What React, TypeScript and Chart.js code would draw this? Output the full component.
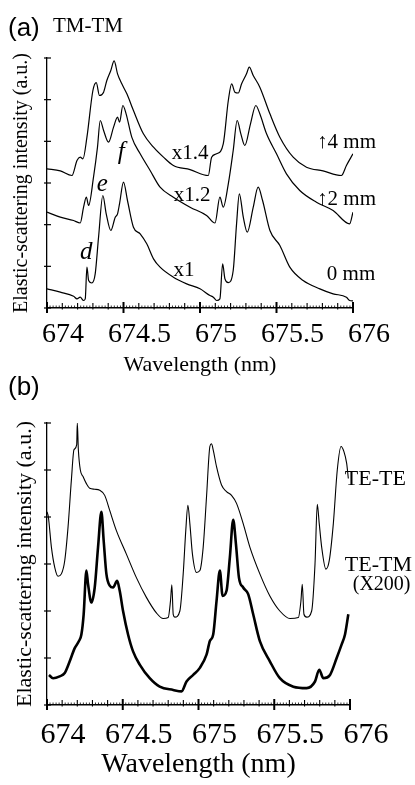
import React, { useEffect, useRef } from "react";
import { Chart, registerables } from "chart.js";
Chart.register(...registerables);

const SERIF = "'Liberation Serif', 'Times New Roman', serif";
const SANS = "'Liberation Sans', Arial, sans-serif";

// ---------- shared axis ----------
const X_MIN = 674;
const X_MAX = 676;
const X_STEP = 0.5;
const X_MINOR = 0.02;
const X_TICK_LABELS = ["674", "674.5", "675", "675.5", "676"];
const Y_MIN = 0;
const Y_MAX = 6;

// ---------- panel (a) TM-TM ----------
const A_WL_X1 = [674.0, 674.087, 674.174, 674.196, 674.217, 674.239, 674.25, 674.261, 674.272, 674.293, 674.315, 674.337, 674.365, 674.387, 674.417, 674.446, 674.461, 674.474, 674.5, 674.526, 674.565, 674.609, 674.652, 674.696, 674.739, 674.826, 674.913, 675.0, 675.065, 675.087, 675.109, 675.13, 675.148, 675.163, 675.185, 675.217, 675.239, 675.257, 675.283, 675.309, 675.348, 675.38, 675.409, 675.457, 675.522, 675.587, 675.674, 675.783, 675.87, 675.957, 675.978, 676.0];
const A_INT_X1 = [0.46, 0.38, 0.28, 0.22, 0.26, 0.18, 0.22, 0.98, 0.66, 0.6, 0.82, 1.7, 2.7, 2.26, 1.86, 2.18, 2.26, 2.5, 3.02, 2.58, 1.94, 1.78, 1.54, 1.18, 0.98, 0.74, 0.58, 0.46, 0.3, 0.26, 0.18, 0.22, 1.06, 0.7, 0.61, 0.9, 2.02, 2.74, 2.18, 1.82, 2.42, 2.9, 2.58, 1.86, 1.5, 0.98, 0.66, 0.46, 0.34, 0.26, 0.18, 0.17];

const A_WL_X12 = [674.0, 674.087, 674.174, 674.217, 674.239, 674.257, 674.272, 674.304, 674.33, 674.348, 674.37, 674.402, 674.435, 674.461, 674.474, 674.496, 674.517, 674.554, 674.609, 674.674, 674.739, 674.826, 674.935, 675.043, 675.098, 675.13, 675.152, 675.185, 675.217, 675.243, 675.267, 675.293, 675.33, 675.365, 675.391, 675.435, 675.5, 675.565, 675.652, 675.761, 675.87, 675.978, 676.0];
const A_INT_X12 = [2.3, 2.18, 2.1, 2.04, 2.42, 2.66, 2.46, 3.14, 3.86, 4.5, 4.26, 3.98, 4.34, 4.58, 4.46, 4.86, 4.66, 4.1, 3.7, 3.3, 2.9, 2.66, 2.42, 2.22, 2.04, 2.66, 2.42, 2.98, 3.78, 4.5, 4.18, 3.9, 4.42, 4.86, 4.66, 4.18, 3.7, 3.22, 2.82, 2.54, 2.34, 2.02, 2.3];

const A_WL_X14 = [674.0, 674.087, 674.163, 674.196, 674.217, 674.235, 674.261, 674.3, 674.322, 674.343, 674.37, 674.391, 674.417, 674.439, 674.461, 674.489, 674.522, 674.565, 674.63, 674.696, 674.761, 674.826, 674.935, 675.054, 675.076, 675.109, 675.152, 675.185, 675.207, 675.228, 675.25, 675.272, 675.304, 675.322, 675.348, 675.391, 675.457, 675.522, 675.609, 675.696, 675.804, 675.924, 675.957, 676.0];
const A_INT_X14 = [3.34, 3.29, 3.18, 3.54, 3.62, 3.58, 4.1, 5.22, 5.41, 5.1, 5.18, 5.46, 5.7, 5.93, 5.62, 5.38, 5.14, 4.74, 4.18, 3.86, 3.62, 3.42, 3.32, 3.18, 3.62, 3.7, 3.94, 4.98, 5.38, 5.18, 5.16, 5.38, 5.62, 5.78, 5.58, 5.3, 4.66, 4.1, 3.62, 3.38, 3.29, 3.18, 3.42, 3.7];

// ---------- panel (b) ----------
const B_WL_TETE = [674.0, 674.009, 674.029, 674.051, 674.073, 674.095, 674.117, 674.139, 674.161, 674.178, 674.196, 674.2, 674.207, 674.22, 674.238, 674.26, 674.282, 674.315, 674.348, 674.381, 674.414, 674.458, 674.524, 674.59, 674.656, 674.722, 674.767, 674.8, 674.815, 674.824, 674.833, 674.844, 674.877, 674.899, 674.916, 674.93, 674.943, 674.96, 674.987, 675.009, 675.031, 675.053, 675.075, 675.086, 675.097, 675.119, 675.152, 675.185, 675.218, 675.251, 675.295, 675.339, 675.405, 675.471, 675.537, 675.604, 675.659, 675.676, 675.685, 675.696, 675.714, 675.747, 675.769, 675.784, 675.797, 675.813, 675.841, 675.863, 675.89, 675.916, 675.941, 675.96, 675.978, 675.989];
const B_INT_TETE = [4.11, 4.0, 3.36, 2.93, 2.74, 2.79, 3.07, 3.79, 4.79, 5.43, 5.54, 6.0, 5.43, 5.0, 4.86, 4.71, 4.61, 4.59, 4.57, 4.46, 4.14, 3.71, 3.21, 2.71, 2.29, 1.96, 1.84, 1.86, 2.21, 2.56, 1.93, 1.87, 2.0, 2.79, 3.71, 4.25, 3.86, 3.21, 2.82, 2.86, 3.36, 4.43, 5.5, 5.56, 5.43, 5.07, 4.68, 4.54, 4.46, 4.29, 3.86, 3.36, 2.79, 2.32, 2.0, 1.84, 1.86, 2.21, 2.57, 1.93, 1.87, 2.0, 3.0, 4.27, 3.86, 3.36, 2.89, 3.07, 3.86, 5.0, 5.5, 5.39, 5.14, 4.82];

const B_WL_TETM = [674.013, 674.04, 674.084, 674.117, 674.15, 674.183, 674.211, 674.227, 674.242, 674.26, 674.271, 674.293, 674.315, 674.337, 674.359, 674.374, 674.392, 674.414, 674.436, 674.463, 674.48, 674.502, 674.535, 674.568, 674.612, 674.678, 674.744, 674.833, 674.888, 674.921, 674.965, 675.009, 675.053, 675.075, 675.097, 675.119, 675.141, 675.159, 675.185, 675.207, 675.229, 675.247, 675.267, 675.295, 675.328, 675.361, 675.405, 675.471, 675.537, 675.626, 675.714, 675.769, 675.797, 675.824, 675.868, 675.912, 675.945, 675.967, 675.989];
const B_INT_TETM = [0.64, 0.57, 0.61, 0.68, 0.93, 1.21, 1.36, 1.5, 1.93, 2.86, 2.57, 2.18, 2.5, 3.36, 4.11, 3.5, 2.79, 2.54, 2.5, 2.64, 2.43, 2.0, 1.5, 1.14, 0.86, 0.57, 0.39, 0.32, 0.29, 0.5, 0.64, 0.79, 1.07, 1.36, 1.5, 2.21, 2.86, 2.32, 2.43, 3.14, 3.94, 3.43, 2.71, 2.5, 2.36, 1.93, 1.36, 0.93, 0.57, 0.39, 0.36, 0.5, 0.75, 0.57, 0.64, 1.0, 1.29, 1.5, 1.93];

type Note = { text: string; x: number; y: number; font: string; align?: CanvasTextAlign };

const A_NOTES: Note[] = [
  { text: "x1.4", x: 674.935, y: 3.72, font: `21px ${SERIF}` },
  { text: "x1.2", x: 674.948, y: 2.71, font: `21px ${SERIF}` },
  { text: "x1", x: 674.896, y: 0.91, font: `21px ${SERIF}` },
  { text: "\u21914 mm", x: 675.765, y: 3.98, font: `21px ${SERIF}`, align: "left" },
  { text: "\u21912 mm", x: 675.765, y: 2.61, font: `21px ${SERIF}`, align: "left" },
  { text: "0 mm", x: 675.829, y: 0.81, font: `21px ${SERIF}`, align: "left" },
  { text: "d", x: 674.256, y: 1.34, font: `italic 25px ${SERIF}` },
  { text: "e", x: 674.361, y: 2.97, font: `italic 25px ${SERIF}` },
  { text: "f", x: 674.485, y: 3.74, font: `italic 25px ${SERIF}` },
];
const A_FIXED: Note[] = [
  { text: "(a)", x: 8, y: 29, font: `26px ${SANS}`, align: "left" },
  { text: "TM-TM", x: 53, y: 26, font: `21px ${SERIF}`, align: "left" },
];
const B_NOTES: Note[] = [
  { text: "TE-TE", x: 675.966, y: 4.81, font: `22px ${SERIF}`, align: "left" },
  { text: "TE-TM", x: 675.966, y: 2.98, font: `22px ${SERIF}`, align: "left" },
  { text: "(X200)", x: 676.018, y: 2.55, font: `20px ${SERIF}`, align: "left" },
];
const B_FIXED: Note[] = [{ text: "(b)", x: 8, y: 18, font: `26px ${SANS}`, align: "left" }];

function pts(xs: number[], ys: number[]) {
  return xs.map((x, i) => ({ x, y: ys[i] }));
}

const axisTicksPlugin = {
  id: "axisTicks",
  afterDraw(chart: any) {
    const { ctx, chartArea } = chart;
    const xs = chart.scales.x;
    const ys = chart.scales.y;
    const yb = chartArea.bottom;
    const xl = chartArea.left;
    ctx.save();
    ctx.strokeStyle = "#000";
    const n = Math.round((X_MAX - X_MIN) / X_MINOR);
    const perMajor = Math.round(X_STEP / X_MINOR);
    for (let i = 0; i <= n; i++) {
      const px = xs.getPixelForValue(X_MIN + i * X_MINOR);
      let up = 2.5, down = 0, w = 0.8;
      if (i % perMajor === 0) { up = 6; down = 5; w = 2; }
      else if (i % 5 === 0) { up = 5; down = 1.5; w = 1.1; }
      ctx.lineWidth = w;
      ctx.beginPath();
      ctx.moveTo(px, yb - up);
      ctx.lineTo(px, yb + down);
      ctx.stroke();
    }
    for (let v = Y_MIN; v <= Y_MAX; v++) {
      const py = ys.getPixelForValue(v);
      ctx.lineWidth = 1.2;
      ctx.beginPath();
      ctx.moveTo(xl - 3, py);
      ctx.lineTo(xl + 4, py);
      ctx.stroke();
    }
    ctx.restore();
  },
};

function notesPlugin(notes: Note[], fixed: Note[]) {
  return {
    id: "notes",
    afterDraw(chart: any) {
      const ctx = chart.ctx;
      const xs = chart.scales.x;
      const ys = chart.scales.y;
      ctx.save();
      ctx.fillStyle = "#000";
      ctx.textBaseline = "middle";
      for (const n of notes) {
        ctx.font = n.font;
        ctx.textAlign = n.align || "center";
        ctx.fillText(n.text, xs.getPixelForValue(n.x), ys.getPixelForValue(n.y));
      }
      for (const n of fixed) {
        ctx.font = n.font;
        ctx.textAlign = n.align || "center";
        ctx.fillText(n.text, n.x, n.y);
      }
      ctx.restore();
    },
  };
}

function tickLabel(v: number) {
  const i = Math.round((Number(v) - X_MIN) / X_STEP);
  return X_TICK_LABELS[i] ?? "";
}

function lineDs(xs: number[], ys: number[], width: number) {
  return {
    data: pts(xs, ys),
    borderColor: "#000",
    borderWidth: width,
    pointRadius: 0,
    fill: false,
    cubicInterpolationMode: "monotone" as const,
  };
}

type PanelCfg = {
  datasets: any[];
  padTop: number;
  padRight: number;
  xHeight: number;
  tickSize: number;
  tickPad: number;
  xTitleSize: number;
  xTitlePad: number;
  yTitleSize: number;
  yTitlePad: number;
  notes: Note[];
  fixed: Note[];
};

function buildChart(canvas: HTMLCanvasElement, c: PanelCfg) {
  return new Chart(canvas, {
    type: "line",
    data: { datasets: c.datasets },
    options: {
      animation: false,
      responsive: false,
      layout: { padding: { top: c.padTop, right: c.padRight, left: 0, bottom: 0 } },
      plugins: { legend: { display: false }, tooltip: { enabled: false } },
      scales: {
        x: {
          type: "linear",
          min: X_MIN,
          max: X_MAX,
          afterFit: (s: any) => { s.height = c.xHeight; },
          grid: { display: false, drawTicks: false },
          border: { display: true, color: "#000", width: 1.5 },
          ticks: {
            stepSize: X_STEP,
            callback: (v: any) => tickLabel(v),
            font: { family: SERIF, size: c.tickSize },
            color: "#000",
            labelOffset: 16,
            padding: c.tickPad,
            maxRotation: 0,
            autoSkip: false,
          },
          title: {
            display: true,
            text: "Wavelength (nm)",
            font: { family: SERIF, size: c.xTitleSize, lineHeight: 1 },
            color: "#000",
            padding: { top: 0, bottom: c.xTitlePad },
          },
        },
        y: {
          min: Y_MIN,
          max: Y_MAX,
          afterFit: (s: any) => { s.width = 47; },
          grid: { display: false, drawTicks: false },
          border: { display: true, color: "#000", width: 1.3 },
          ticks: { display: false, stepSize: 1 },
          title: {
            display: true,
            text: "Elastic-scattering intensity (a.u.)",
            font: { family: SERIF, size: c.yTitleSize, lineHeight: 1.2 },
            color: "#000",
            padding: { top: c.yTitlePad, bottom: 0 },
          },
        },
      },
    } as any,
    plugins: [axisTicksPlugin, notesPlugin(c.notes, c.fixed)],
  });
}

export default function App() {
  const refA = useRef<HTMLCanvasElement>(null);
  const refB = useRef<HTMLCanvasElement>(null);

  useEffect(() => {
    const a = buildChart(refA.current!, {
      datasets: [
        lineDs(A_WL_X14, A_INT_X14, 1.2),
        lineDs(A_WL_X12, A_INT_X12, 1.2),
        lineDs(A_WL_X1, A_INT_X1, 1.2),
      ],
      padTop: 58,
      padRight: 62,
      xHeight: 72,
      tickSize: 28,
      tickPad: 10,
      xTitleSize: 22,
      xTitlePad: 4,
      yTitleSize: 20,
      yTitlePad: 10,
      notes: A_NOTES,
      fixed: A_FIXED,
    });
    const b = buildChart(refB.current!, {
      datasets: [
        lineDs(B_WL_TETE, B_INT_TETE, 1.1),
        lineDs(B_WL_TETM, B_INT_TETM, 2.6),
      ],
      padTop: 53,
      padRight: 65,
      xHeight: 80,
      tickSize: 30,
      tickPad: 12,
      xTitleSize: 28,
      xTitlePad: 6,
      yTitleSize: 22,
      yTitlePad: 12,
      notes: B_NOTES,
      fixed: B_FIXED,
    });
    return () => {
      a.destroy();
      b.destroy();
    };
  }, []);

  return (
    <div style={{ position: "absolute", left: 0, top: 0, width: 415, height: 785, background: "#fff" }}>
      <canvas ref={refA} width={415} height={380} style={{ position: "absolute", left: 0, top: 0, display: "block" }} />
      <canvas ref={refB} width={415} height={415} style={{ position: "absolute", left: 0, top: 370, display: "block" }} />
    </div>
  );
}
